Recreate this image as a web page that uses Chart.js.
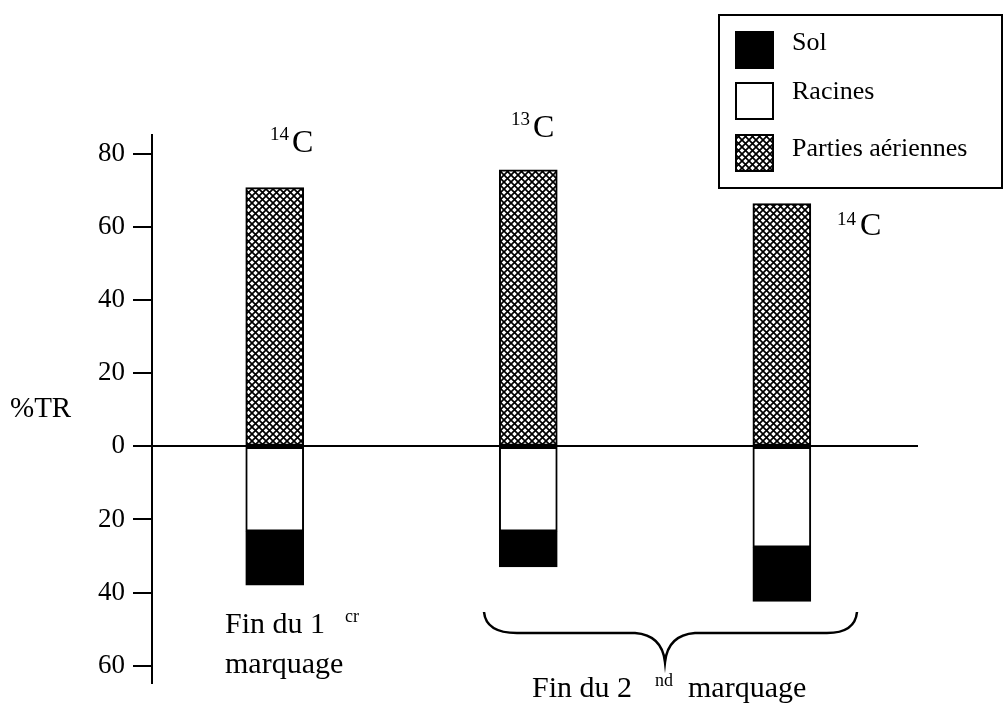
<!DOCTYPE html>
<html><head><meta charset="utf-8">
<script src="https://cdn.jsdelivr.net/npm/chart.js@4/dist/chart.umd.min.js"></script>
<style>html,body{margin:0;padding:0;background:#fff}#wrap{width:1004px;height:707px;position:relative}</style>
</head><body><div id="wrap"><canvas id="c" width="1004" height="707"></canvas></div>
<script>
// ---- data ----
const categories = ['Fin du 1er marquage (14C)', 'Fin du 2nd marquage (13C)', 'Fin du 2nd marquage (14C)'];
const isotopeMass = ['14', '13', '14'];
const partiesAeriennes = [70.8, 75.7, 66.4];
const racines = [-23.2, -23.2, -27.6];
const sol = [-14.8, -9.8, -14.8];
const yTickValues = [-60, -40, -20, 0, 20, 40, 60, 80];
const legendLabels = ['Sol', 'Racines', 'Parties aériennes'];
const yAxisTitle = '%TR';

const SERIF = "'Liberation Serif', 'Times New Roman', serif";

function makePattern() {
  const t = document.createElement('canvas');
  t.width = 7; t.height = 7;
  const g = t.getContext('2d');
  g.fillStyle = '#fff'; g.fillRect(0, 0, 7, 7);
  g.strokeStyle = '#000'; g.lineWidth = 1.7;
  g.beginPath();
  g.moveTo(-1, -1); g.lineTo(8, 8);
  g.moveTo(8, -1); g.lineTo(-1, 8);
  g.stroke();
  return g.createPattern(t, 'repeat');
}
const pattern = makePattern();
const pts = arr => arr.map((v, i) => ({ x: i, y: v }));

const barStyle = { borderColor: '#000', borderWidth: 2, borderSkipped: false, barThickness: 58 };
const datasets = [
  Object.assign({ label: 'Racines', data: pts(racines), backgroundColor: '#fff' }, barStyle),
  Object.assign({ label: 'Sol', data: pts(sol), backgroundColor: '#000' }, barStyle),
  Object.assign({ label: 'Parties aériennes', data: pts(partiesAeriennes), backgroundColor: pattern }, barStyle)
];

const annotations = {
  id: 'annotations',
  afterDraw(chart) {
    const c = chart.ctx;
    c.save();
    c.fillStyle = '#000';
    c.textBaseline = 'alphabetic';
    c.textAlign = 'left';
    // y axis title
    c.font = '29px ' + SERIF;
    c.fillText(yAxisTitle, 10, 417);
    // isotope labels
    const iso = [
      { sx: 270, sy: 140, cx: 292, cy: 152 },
      { sx: 511, sy: 125, cx: 533, cy: 137 },
      { sx: 837, sy: 225, cx: 860, cy: 235 }
    ];
    iso.forEach((p, i) => {
      c.font = '19px ' + SERIF;
      c.fillText(isotopeMass[i], p.sx, p.sy);
      c.font = '32px ' + SERIF;
      c.fillText('C', p.cx, p.cy);
    });
    // group labels
    c.font = '30px ' + SERIF;
    c.fillText('Fin du 1', 225, 633);
    c.fillText('marquage', 225, 673);
    c.fillText('Fin du 2', 532, 697);
    c.fillText('marquage', 688, 697);
    c.font = '18px ' + SERIF;
    c.fillText('cr', 345, 622);
    c.fillText('nd', 655, 686);
    // brace
    c.strokeStyle = '#000';
    c.lineWidth = 2.5;
    c.beginPath();
    c.moveTo(484, 612);
    c.quadraticCurveTo(486, 633, 517, 633);
    c.lineTo(635, 633);
    c.quadraticCurveTo(662, 635, 665, 662);
    c.quadraticCurveTo(668, 635, 695, 633);
    c.lineTo(827, 633);
    c.quadraticCurveTo(855, 633, 857, 612);
    c.stroke();
    // legend
    c.lineWidth = 2;
    c.strokeRect(719, 15, 283, 173);
    const order = legendLabels.map(l => chart.data.datasets.findIndex(d => d.label === l));
    const swY = [32, 83, 135];
    const txY = [50, 99, 156];
    c.font = '26px ' + SERIF;
    order.forEach((di, k) => {
      const ds = chart.data.datasets[di];
      c.fillStyle = ds.backgroundColor;
      c.fillRect(736, swY[k], 37, 36);
      c.strokeRect(736, swY[k], 37, 36);
      c.fillStyle = '#000';
      c.fillText(ds.label, 792, txY[k]);
    });
    c.restore();
  }
};

new Chart(document.getElementById('c'), {
  type: 'bar',
  data: { labels: categories, datasets },
  options: {
    responsive: false,
    animation: false,
    devicePixelRatio: 1,
    layout: { padding: { left: 0, top: 135, right: 86, bottom: 17 } },
    scales: {
      x: { type: 'linear', min: -0.484, max: 2.537, offset: false, stacked: true, display: false },
      y: {
        stacked: true,
        min: -64.7,
        max: 85.2,
        afterBuildTicks: s => { s.ticks = yTickValues.map(v => ({ value: v })); },
        afterFit: s => { s.width = 152; },
        ticks: {
          callback: v => String(Math.abs(v)),
          color: '#000',
          font: { family: SERIF, size: 27 },
          padding: 8
        },
        grid: {
          drawOnChartArea: true,
          color: ctx => (ctx.tick && ctx.tick.value === 0) ? '#000' : 'rgba(0,0,0,0)',
          lineWidth: 2,
          tickColor: '#000',
          tickLength: 19,
          tickWidth: 2
        },
        border: { display: true, color: '#000', width: 2 }
      }
    },
    plugins: { legend: { display: false }, tooltip: { enabled: false } }
  },
  plugins: [annotations]
});
</script>
</body></html>
